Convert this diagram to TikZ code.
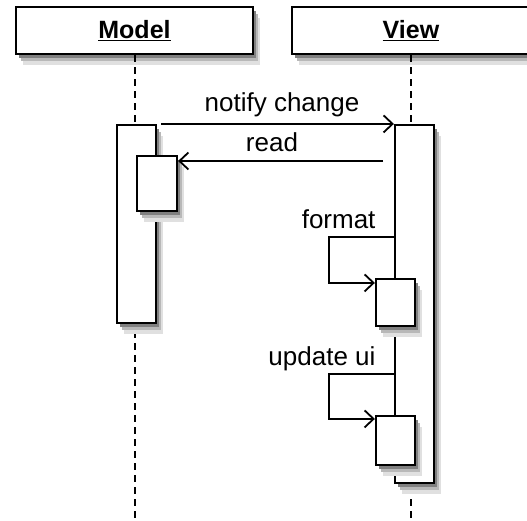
\documentclass[tikz,border=0pt]{standalone}
\usepackage{fontspec}
\setmainfont{Liberation Sans}
\usetikzlibrary{arrows.meta,shadows}

\begin{document}
\begin{tikzpicture}[x=1pt, y=-1pt, font=\fontsize{26}{30}\selectfont,
	boxshadow/.style={drop shadow={fill=black!12, opacity=1, shadow xshift=7pt, shadow yshift=-11pt},
		drop shadow={fill=black!28, opacity=1, shadow xshift=5pt, shadow yshift=-7pt},
		drop shadow={fill=black!50, opacity=1, shadow xshift=3pt, shadow yshift=-4pt}},
	head/.style={draw, fill=white, line width=2.2pt, minimum height=47pt, boxshadow, font=\fontsize{25}{30}\selectfont\bfseries},
	act/.style={draw, fill=white, line width=2.2pt, inner sep=0pt, boxshadow},
	life/.style={line width=2pt, dash pattern=on 7pt off 5pt},
	msg/.style={line width=1.8pt, -{Straight Barb[length=9pt,width=17pt,line width=1.8pt]}}]
	\useasboundingbox (0,0) rectangle (527,521);
	\fill[white] (0,0) rectangle (527,521);
	\node[head, minimum width=237pt] (mhead) at (134.5,30.5) {\underline{Model}};
	\node[head, minimum width=238pt] (vhead) at (411,30.5) {\underline{View}};
	\coordinate (mend) at (134.5,521);
	\coordinate (vend) at (411,521);
	\draw[life] (mhead.south) -- (mend);
	\draw[life] (vhead.south) -- (vend);
	\node[act, minimum width=39pt, minimum height=198pt] (mact) at (136.5,224) {};
	\node[act, minimum width=40pt, minimum height=55pt] (minner) at (157,183.5) {};
	\node[act, minimum width=39pt, minimum height=358pt] (vact) at (414.5,304) {};
	\node[act, minimum width=39pt, minimum height=47pt] (fmt) at (395.5,302.5) {};
	\node[act, minimum width=39pt, minimum height=49pt] (upd) at (395.5,440.5) {};
	% messages
	\draw[msg] ([xshift=4pt]mact.north east) -- (vact.north west);
	\node (notify) at (282,105) {notify change};
	\coordinate (rd) at (383,161);
	\draw[msg] (rd) -- (minner.east |- rd);
	\node (read) at (272,142) {read};
	\draw[msg] (vact.west |- 0,237) -- ++(-65,0) |- ([yshift=-5pt]fmt.north west);
	\node[anchor=east] (fmtlabel) at (379,219) {format};
	\draw[msg] (vact.west |- 0,374) -- ++(-65,0) |- ([yshift=-4pt]upd.north west);
	\node[anchor=east] (updlabel) at (379,359) {update ui};
\end{tikzpicture}
\end{document}
